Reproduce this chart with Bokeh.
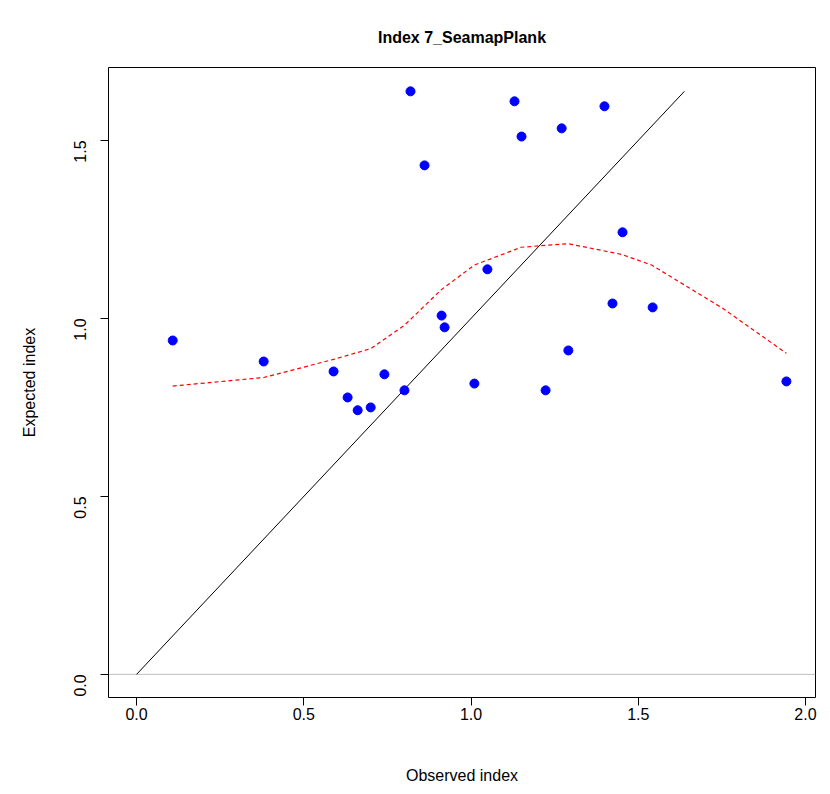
from math import pi
from bokeh.plotting import figure
from bokeh.models import Range1d, FixedTicker, NumeralTickFormatter
from bokeh.embed import file_html
from bokeh.resources import INLINE

obs = [0.108, 0.38, 0.589, 0.631, 0.661, 0.70, 0.741, 0.801, 0.819, 0.861, 0.912, 0.921,
       1.010, 1.049, 1.130, 1.151, 1.223, 1.271, 1.291, 1.399, 1.423, 1.453, 1.543, 1.943]
exp = [0.938, 0.879, 0.851, 0.778, 0.742, 0.750, 0.843, 0.798, 1.638, 1.430, 1.008, 0.975,
       0.817, 1.138, 1.610, 1.511, 0.798, 1.534, 0.910, 1.596, 1.042, 1.242, 1.031, 0.823]

smooth_x = [0.108, 0.38, 0.589, 0.70, 0.80, 0.91, 1.01, 1.15, 1.29, 1.45, 1.54, 1.75, 1.943]
smooth_y = [0.81, 0.834, 0.885, 0.915, 0.98, 1.08, 1.15, 1.20, 1.21, 1.18, 1.15, 1.03, 0.902]

diag = [0, 1.638]
ticks = [0.0, 0.5, 1.0, 1.5, 2.0]

p = figure(width=822, height=794, output_backend="svg", toolbar_location=None,
           title="Index 7_SeamapPlank", x_axis_label="Observed index", y_axis_label="Expected index",
           x_range=Range1d(-0.084, 2.03), y_range=Range1d(-0.065, 1.705),
           min_border_left=108, min_border_right=7, min_border_top=67, min_border_bottom=97)
p.title.align = "center"
p.title.text_font = "Liberation Sans"
p.title.text_font_size = "16px"
p.title.text_color = "black"
p.title.standoff = 44
p.grid.visible = False
p.outline_line_color = "black"
p.outline_line_width = 1

for ax in (p.xaxis, p.yaxis):
    ax.ticker = FixedTicker(ticks=ticks)
    ax.formatter = NumeralTickFormatter(format="0.0")
    ax.major_label_text_font = "Liberation Sans"
    ax.major_label_text_font_size = "16px"
    ax.major_label_text_color = "black"
    ax.axis_label_text_font = "Liberation Sans"
    ax.axis_label_text_font_size = "16px"
    ax.axis_label_text_font_style = "normal"
    ax.axis_label_text_color = "black"
    ax.minor_tick_line_color = None
    ax.major_tick_out = 8
    ax.major_tick_in = 0
    ax.axis_line_color = None
p.xaxis.major_label_standoff = 2
p.xaxis.axis_label_standoff = 44
p.yaxis.major_label_standoff = 20
p.yaxis.axis_label_standoff = 28
p.yaxis.major_label_orientation = pi / 2

p.line([-0.084, 2.03], [0, 0], color="#bebebe", line_width=1)
p.line(diag, diag, color="black", line_width=1)
p.line(smooth_x, smooth_y, color="red", line_dash="4 3", line_width=1.2)
p.scatter(obs, exp, size=9, color="blue")

open("out.html", "w").write(file_html(p, INLINE))
